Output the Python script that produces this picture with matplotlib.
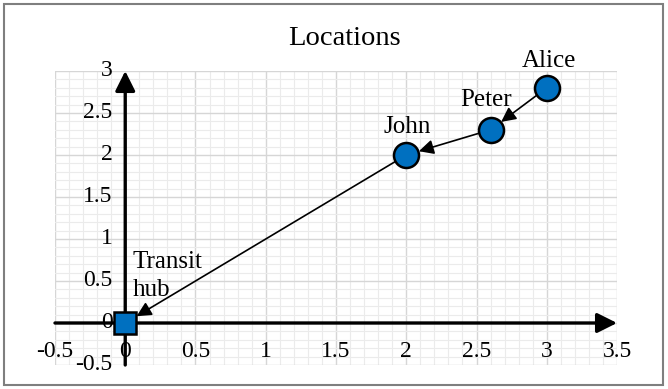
import matplotlib
matplotlib.use("Agg")
import matplotlib.pyplot as plt
from matplotlib.patches import Rectangle
import numpy as np


OUTPUT = "out.png"

names = ["Alice", "Peter", "John"]
x_people = [3.0, 2.6, 2.0]
y_people = [2.8, 2.3, 2.0]
hub_name = "Transit\nhub"
hub_x = 0.0
hub_y = 0.0

x_ticks = [-0.5, 0, 0.5, 1, 1.5, 2, 2.5, 3, 3.5]
x_tick_labels = ["-0.5", "0", "0.5", "1", "1.5", "2", "2.5", "3", "3.5"]
y_ticks = [-0.5, 0, 0.5, 1, 1.5, 2, 2.5, 3]
y_tick_labels = ["-0.5", "0", "0.5", "1", "1.5", "2", "2.5", "3"]

# label offsets relative to each point, in data units
label_offsets = [(0.016, 0.32), (-0.03, 0.35), (0.01, 0.33)]

BLUE = "#0070C0"


def main():
    plt.rcParams["font.family"] = ["Liberation Serif", "DejaVu Serif"]

    fig = plt.figure(figsize=(6.68, 3.89), dpi=100)
    ax = fig.add_axes([0.0823, 0.0617, 0.8414, 0.7558])
    ax.set_xlim(-0.5, 3.5)
    ax.set_ylim(-0.5, 3.0)

    # grid like an Excel chart: major every 0.5, minor every 0.1
    ax.set_xticks(x_ticks)
    ax.set_yticks(y_ticks)
    ax.set_xticks(np.arange(-0.5, 3.51, 0.1), minor=True)
    ax.set_yticks(np.arange(-0.5, 3.01, 0.1), minor=True)
    ax.grid(which="major", color="#d6d6d6", lw=1.0, zorder=0)
    ax.grid(which="minor", color="#ebebeb", lw=0.8, zorder=0)
    ax.set_axisbelow(True)
    ax.tick_params(which="both", length=0, labelbottom=False, labelleft=False)
    for spine in ax.spines.values():
        spine.set_visible(False)

    # axes through the origin with arrow heads
    ax.annotate("", xy=(3.5, 0), xytext=(-0.5, 0),
                arrowprops=dict(arrowstyle="-|>", lw=2.4, color="black",
                                mutation_scale=30, shrinkA=0, shrinkB=0),
                annotation_clip=False, zorder=2)
    ax.annotate("", xy=(0, 3.0), xytext=(0, -0.5),
                arrowprops=dict(arrowstyle="-|>", lw=2.4, color="black",
                                mutation_scale=30, shrinkA=0, shrinkB=0),
                annotation_clip=False, zorder=2)

    # tick labels beside the crossing axes
    for xt, lab in zip(x_ticks, x_tick_labels):
        ax.text(xt, -0.345, lab, ha="center", va="center", fontsize=17,
                zorder=3, clip_on=False)
    for yt, lab in zip(y_ticks, y_tick_labels):
        ax.text(-0.09, yt, lab, ha="right", va="center", fontsize=17,
                zorder=3, clip_on=False)

    # arrows between locations
    xs = x_people + [hub_x]
    ys = y_people + [hub_y]
    for i in range(len(xs) - 1):
        ax.annotate("", xy=(xs[i + 1], ys[i + 1]), xytext=(xs[i], ys[i]),
                    arrowprops=dict(arrowstyle="-|>", lw=1.2, color="black",
                                    mutation_scale=22, shrinkA=9, shrinkB=9.5),
                    zorder=4)

    ax.plot(x_people, y_people, "o", ms=18, mfc=BLUE, mec="black", mew=1.8,
            ls="none", zorder=5, clip_on=False)
    ax.plot([hub_x], [hub_y], "s", ms=16.5, mfc=BLUE, mec="black", mew=1.8,
            ls="none", zorder=5, clip_on=False)

    for name, px, py, (dx, dy) in zip(names, x_people, y_people, label_offsets):
        ax.text(px + dx, py + dy, name, ha="center", va="center",
                fontsize=18, zorder=6, clip_on=False)
    ax.text(hub_x + 0.055, hub_y + 0.56, hub_name, ha="left", va="center",
            fontsize=18, linespacing=1.3, zorder=6)

    fig.text(0.515, 0.902, "Locations", ha="center", va="center", fontsize=20.5)

    fig.patches.append(Rectangle((4 / 668, 4 / 389), 659 / 668, 381 / 389,
                                 transform=fig.transFigure, fill=False,
                                 edgecolor="#7f7f7f", lw=1.5))

    fig.savefig(OUTPUT, dpi=100)
    plt.close(fig)


if __name__ == "__main__":
    main()
